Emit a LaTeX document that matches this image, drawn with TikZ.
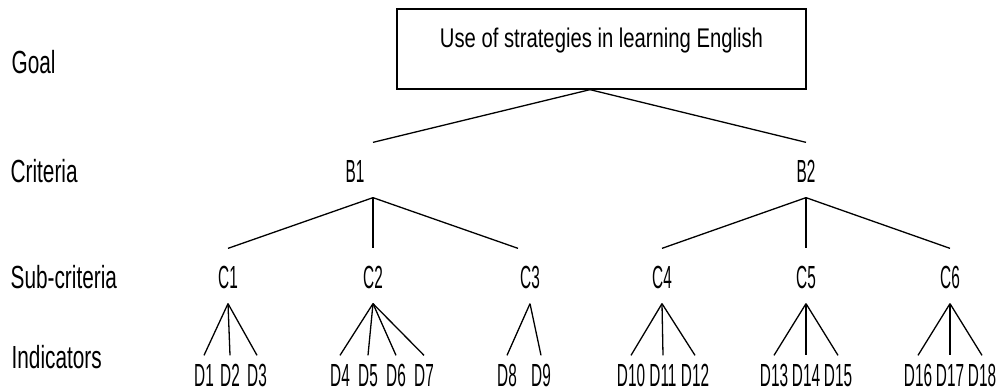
\documentclass[tikz,border=0pt]{standalone}
\usepackage{fontspec}
\setmainfont[FakeStretch=0.65]{Liberation Sans}
\newfontfamily\boxfont[FakeStretch=0.75]{Liberation Sans}
\newfontfamily\idfont[FakeStretch=0.48]{Liberation Sans}
\usepackage{tikz}
\usetikzlibrary{positioning,calc}

\begin{document}
\begin{tikzpicture}[x=1pt,y=-1pt,line width=1.3pt,
    lvl/.style={anchor=base west,font=\fontsize{32}{38}\selectfont,inner sep=0pt},
    crit/.style={anchor=base,font=\idfont\fontsize{32}{38}\selectfont,inner sep=0pt,text height=39pt,text depth=15pt},
    ind/.style={anchor=base,font=\idfont\fontsize{32}{38}\selectfont,inner sep=0pt,text height=30pt,text depth=0pt},
    goalbox/.style={draw,anchor=base,font=\boxfont\fontsize{27}{32}\selectfont,inner ysep=0pt,
        minimum width=409pt,text height=38pt,text depth=42pt}]
\useasboundingbox (0,0) rectangle (1001,391);

% Level labels
\node[lvl] (lgoal) at (11,73) {Goal};
\node[lvl] (lcrit) at (10,182) {Criteria};
\node[lvl] (lsub) at (10,288) {Sub-criteria};
\node[lvl] (lind) at (11,368) {Indicators};

% Goal
\node[goalbox] (goal) at (601.5,47) {Use of strategies in learning English};

% Criteria
\node[crit] (b1) at (355,182) {B1};
\node[crit] (b2) at (806,182) {B2};
\draw ([xshift=-11.5pt]goal.south) -- ([xshift=18pt]b1.north);
\draw ([xshift=-11.5pt]goal.south) -- (b2.north);

% Sub-criteria
\foreach \n/\x in {1/228,2/373,3/530,4/662,5/806,6/950}
    \node[crit] (c\n) at (\x,288) {C\n};
\draw ([xshift=18pt]b1.south) -- (c1.north);
\draw ([xshift=18pt]b1.south) -- (c2.north);
\draw ([xshift=18pt]b1.south) -- ([xshift=-12pt]c3.north);
\foreach \c in {c4,c5,c6}
    \draw (b2.south) -- (\c.north);

% Indicators
\foreach \n/\x/\p in {1/204/c1,2/230/c1,3/257/c1,
                      4/340/c2,5/368/c2,6/396/c2,7/424/c2,
                      8/507/c3,9/541/c3,
                      10/631/c4,11/663/c4,12/695/c4,
                      13/774/c5,14/806/c5,15/838/c5,
                      16/918/c6,17/950/c6,18/982/c6} {
    \node[ind] (d\n) at (\x,386) {D\n};
    \draw (\p.south) -- (d\n.north);
}
\end{tikzpicture}
\end{document}
